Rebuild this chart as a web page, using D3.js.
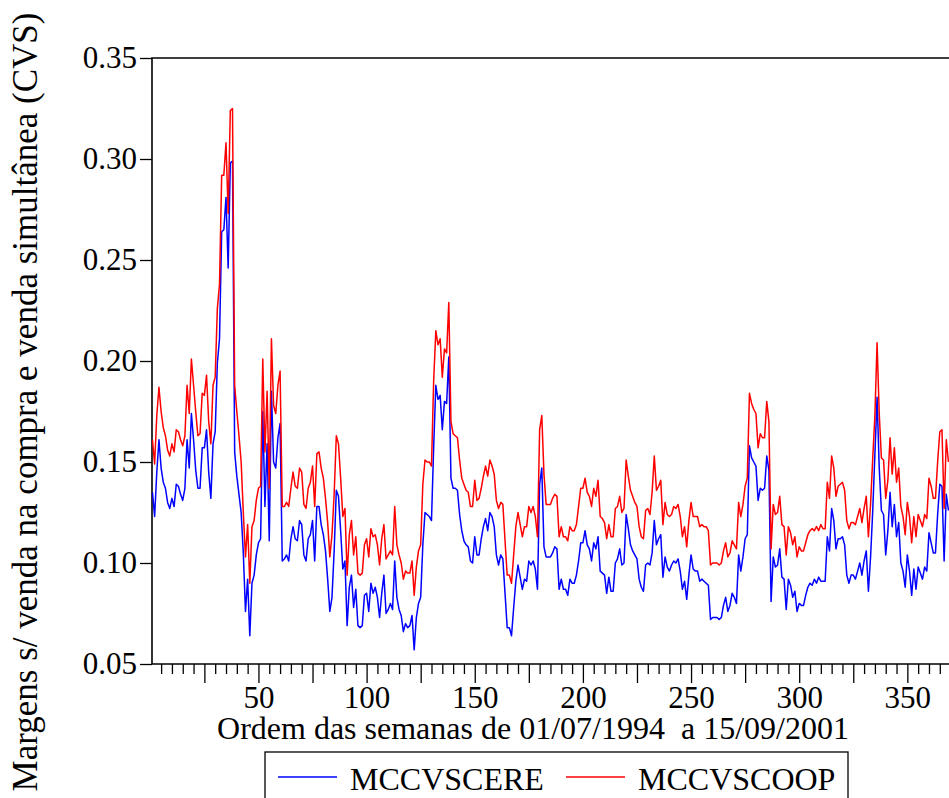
<!DOCTYPE html>
<html>
<head>
<meta charset="utf-8">
<script src="https://cdn.jsdelivr.net/npm/d3@7"></script>
<style>
  body { margin: 0; background: #fff; }
  svg { display: block; font-family: "Liberation Serif", "Times New Roman", serif; }
</style>
</head>
<body>
<svg id="chart" width="949" height="798"></svg>
<script>
// weekly margins, week 1 = 01/07/1994 (last weeks are cut by the frame)
var mccvscere = [
  0.135, 0.123, 0.145, 0.161, 0.147, 0.140, 0.137, 0.130, 0.127, 0.132,
  0.128, 0.139, 0.138, 0.134, 0.131, 0.137, 0.161, 0.147, 0.174, 0.161,
  0.146, 0.137, 0.137, 0.157, 0.157, 0.166, 0.145, 0.132, 0.159, 0.165,
  0.199, 0.211, 0.264, 0.265, 0.281, 0.246, 0.298, 0.299, 0.155, 0.143,
  0.134, 0.125, 0.105, 0.076, 0.092, 0.064, 0.090, 0.094, 0.104, 0.110,
  0.112, 0.175, 0.128, 0.159, 0.111, 0.185, 0.150, 0.147, 0.162, 0.169,
  0.101, 0.102, 0.104, 0.101, 0.112, 0.118, 0.112, 0.111, 0.121, 0.119,
  0.104, 0.101, 0.112, 0.114, 0.121, 0.101, 0.128, 0.128, 0.119, 0.114,
  0.106, 0.092, 0.076, 0.083, 0.106, 0.136, 0.133, 0.116, 0.097, 0.101,
  0.069, 0.088, 0.094, 0.078, 0.087, 0.069, 0.068, 0.069, 0.084, 0.085,
  0.076, 0.090, 0.085, 0.088, 0.083, 0.073, 0.085, 0.094, 0.075, 0.077,
  0.080, 0.077, 0.101, 0.083, 0.077, 0.074, 0.066, 0.070, 0.068, 0.069,
  0.074, 0.057, 0.073, 0.080, 0.083, 0.109, 0.125, 0.124, 0.123, 0.121,
  0.157, 0.188, 0.181, 0.183, 0.166, 0.180, 0.179, 0.202, 0.142, 0.137,
  0.137, 0.136, 0.124, 0.116, 0.111, 0.109, 0.108, 0.101, 0.100, 0.113,
  0.104, 0.104, 0.112, 0.118, 0.122, 0.116, 0.125, 0.123, 0.118, 0.104,
  0.099, 0.104, 0.102, 0.085, 0.068, 0.068, 0.064, 0.078, 0.091, 0.099,
  0.093, 0.087, 0.092, 0.091, 0.101, 0.099, 0.101, 0.097, 0.087, 0.139,
  0.147, 0.108, 0.103, 0.103, 0.103, 0.105, 0.108, 0.107, 0.087, 0.092,
  0.087, 0.087, 0.084, 0.092, 0.090, 0.090, 0.094, 0.101, 0.110, 0.110,
  0.116, 0.109, 0.107, 0.101, 0.110, 0.107, 0.113, 0.096, 0.095, 0.094,
  0.085, 0.093, 0.086, 0.086, 0.100, 0.102, 0.107, 0.099, 0.100, 0.124,
  0.117, 0.109, 0.106, 0.104, 0.102, 0.092, 0.088, 0.086, 0.099, 0.100,
  0.099, 0.105, 0.121, 0.109, 0.112, 0.114, 0.093, 0.103, 0.098, 0.096,
  0.099, 0.101, 0.100, 0.102, 0.096, 0.087, 0.091, 0.082, 0.094, 0.104,
  0.097, 0.096, 0.096, 0.091, 0.092, 0.091, 0.090, 0.089, 0.072, 0.073,
  0.073, 0.073, 0.072, 0.073, 0.079, 0.083, 0.076, 0.079, 0.085, 0.083,
  0.080, 0.104, 0.096, 0.103, 0.112, 0.114, 0.158, 0.152, 0.150, 0.148,
  0.131, 0.137, 0.136, 0.137, 0.153, 0.146, 0.081, 0.103, 0.098, 0.099,
  0.107, 0.093, 0.092, 0.077, 0.092, 0.089, 0.083, 0.086, 0.076, 0.080,
  0.079, 0.079, 0.084, 0.088, 0.090, 0.089, 0.092, 0.090, 0.093, 0.091,
  0.091, 0.091, 0.113, 0.106, 0.127, 0.121, 0.107, 0.112, 0.112, 0.113,
  0.109, 0.094, 0.090, 0.094, 0.094, 0.092, 0.096, 0.100, 0.094, 0.101,
  0.106, 0.086, 0.103, 0.126, 0.154, 0.182, 0.147, 0.126, 0.124, 0.104,
  0.116, 0.135, 0.118, 0.129, 0.113, 0.120, 0.100, 0.096, 0.088, 0.104,
  0.096, 0.084, 0.097, 0.087, 0.098, 0.095, 0.092, 0.098, 0.096, 0.115,
  0.110, 0.105, 0.105, 0.124, 0.139, 0.138, 0.101, 0.134, 0.126
];

var mccvscoop = [
  0.161, 0.149, 0.173, 0.187, 0.175, 0.167, 0.163, 0.156, 0.153, 0.159,
  0.155, 0.166, 0.165, 0.161, 0.158, 0.163, 0.188, 0.174, 0.201, 0.188,
  0.175, 0.163, 0.164, 0.184, 0.183, 0.193, 0.170, 0.159, 0.188, 0.192,
  0.226, 0.238, 0.292, 0.292, 0.308, 0.273, 0.324, 0.325, 0.188, 0.175,
  0.163, 0.150, 0.125, 0.103, 0.119, 0.090, 0.118, 0.121, 0.131, 0.137,
  0.138, 0.201, 0.155, 0.185, 0.137, 0.211, 0.178, 0.174, 0.188, 0.195,
  0.128, 0.128, 0.130, 0.128, 0.137, 0.145, 0.138, 0.137, 0.147, 0.145,
  0.129, 0.127, 0.137, 0.140, 0.148, 0.128, 0.154, 0.155, 0.147, 0.142,
  0.132, 0.120, 0.103, 0.114, 0.134, 0.163, 0.159, 0.142, 0.123, 0.127,
  0.094, 0.114, 0.121, 0.104, 0.113, 0.095, 0.094, 0.095, 0.109, 0.112,
  0.103, 0.117, 0.113, 0.114, 0.109, 0.099, 0.112, 0.119, 0.102, 0.104,
  0.106, 0.104, 0.128, 0.109, 0.104, 0.100, 0.092, 0.096, 0.095, 0.095,
  0.101, 0.084, 0.098, 0.106, 0.109, 0.139, 0.151, 0.150, 0.150, 0.148,
  0.190, 0.215, 0.208, 0.211, 0.192, 0.206, 0.204, 0.229, 0.170, 0.164,
  0.163, 0.162, 0.151, 0.142, 0.139, 0.136, 0.135, 0.128, 0.128, 0.141,
  0.131, 0.132, 0.137, 0.143, 0.148, 0.143, 0.151, 0.148, 0.144, 0.131,
  0.127, 0.130, 0.129, 0.111, 0.094, 0.094, 0.090, 0.104, 0.118, 0.125,
  0.119, 0.113, 0.118, 0.118, 0.128, 0.125, 0.128, 0.123, 0.113, 0.166,
  0.173, 0.144, 0.129, 0.129, 0.129, 0.132, 0.134, 0.133, 0.113, 0.118,
  0.113, 0.113, 0.111, 0.118, 0.116, 0.116, 0.119, 0.128, 0.137, 0.137,
  0.142, 0.135, 0.133, 0.128, 0.137, 0.133, 0.141, 0.123, 0.122, 0.120,
  0.112, 0.119, 0.113, 0.113, 0.127, 0.128, 0.133, 0.125, 0.127, 0.151,
  0.143, 0.136, 0.133, 0.130, 0.128, 0.118, 0.113, 0.112, 0.126, 0.127,
  0.124, 0.135, 0.153, 0.136, 0.138, 0.141, 0.119, 0.130, 0.124, 0.123,
  0.124, 0.128, 0.127, 0.129, 0.123, 0.113, 0.118, 0.108, 0.121, 0.130,
  0.123, 0.123, 0.123, 0.118, 0.119, 0.118, 0.118, 0.116, 0.099, 0.100,
  0.100, 0.100, 0.099, 0.100, 0.106, 0.110, 0.103, 0.105, 0.111, 0.109,
  0.107, 0.130, 0.123, 0.129, 0.138, 0.142, 0.184, 0.179, 0.176, 0.174,
  0.157, 0.164, 0.162, 0.162, 0.180, 0.170, 0.107, 0.129, 0.124, 0.125,
  0.133, 0.119, 0.118, 0.104, 0.118, 0.115, 0.109, 0.113, 0.103, 0.108,
  0.106, 0.106, 0.110, 0.114, 0.116, 0.117, 0.116, 0.118, 0.116, 0.119,
  0.117, 0.117, 0.140, 0.132, 0.153, 0.147, 0.133, 0.138, 0.139, 0.140,
  0.136, 0.121, 0.117, 0.120, 0.120, 0.119, 0.123, 0.127, 0.120, 0.127,
  0.133, 0.113, 0.129, 0.152, 0.173, 0.209, 0.174, 0.152, 0.151, 0.132,
  0.141, 0.162, 0.144, 0.157, 0.140, 0.147, 0.128, 0.123, 0.114, 0.130,
  0.123, 0.110, 0.123, 0.113, 0.124, 0.121, 0.118, 0.124, 0.122, 0.142,
  0.138, 0.132, 0.132, 0.150, 0.165, 0.166, 0.127, 0.161, 0.150
];

var seriesNames = ["MCCVSCERE", "MCCVSCOOP"];
var seriesColors = ["#0000ff", "#ff0000"];
var yTicks = [0.05, 0.10, 0.15, 0.20, 0.25, 0.30, 0.35];
var xLabelTicks = [50, 100, 150, 200, 250, 300, 350];
var xTitle = "Ordem das semanas de 01/07/1994\u00a0\u00a0a 15/09/2001";
var yTitle = "Margens s/ venda na compra e venda simultânea (CVS)";

var svg = d3.select("#chart");
var W = 949, H = 798;
var plotLeft = 152, plotTop = 58, plotBottom = 664;

svg.append("rect").attr("width", W).attr("height", H).attr("fill", "#fff");

// x runs past the right edge of the picture, the frame is cut there
var x = d3.scaleLinear().domain([0, 380]).range([150.3, 150.3 + 380 * 2.163]);
var y = d3.scaleLinear().domain([0.05, 0.35]).range([plotBottom, plotTop]);

// minor ticks every 5 weeks
var minorAxis = d3.axisBottom(x)
  .tickValues(d3.range(5, 371, 5).filter(function(d) { return d % 25 != 0; }))
  .tickSize(10)
  .tickFormat("");
svg.append("g")
  .attr("transform", "translate(0," + plotBottom + ")")
  .call(minorAxis)
  .call(function(g) { g.select(".domain").remove(); });

// major ticks every 25, labels every 50
var majorAxis = d3.axisBottom(x)
  .tickValues(d3.range(25, 371, 25))
  .tickSize(19)
  .tickPadding(3)
  .tickFormat(function(d) { return xLabelTicks.indexOf(d) >= 0 ? d : ""; });
svg.append("g")
  .attr("transform", "translate(0," + plotBottom + ")")
  .call(majorAxis)
  .call(function(g) { g.select(".domain").remove(); });

var yAxis = d3.axisLeft(y)
  .tickValues(yTicks)
  .tickSize(12)
  .tickPadding(3)
  .tickFormat(d3.format(".2f"));
svg.append("g")
  .attr("transform", "translate(" + plotLeft + ",0)")
  .call(yAxis)
  .call(function(g) { g.select(".domain").remove(); });

svg.selectAll(".tick line").attr("stroke", "#000").attr("stroke-width", 1.3);
svg.selectAll(".tick text")
  .attr("fill", "#000")
  .style("font-family", "Liberation Serif")
  .style("font-size", "31px");

// frame (left, top, bottom)
svg.append("path")
  .attr("d", "M" + (W + 5) + "," + plotTop + "H" + plotLeft + "V" + plotBottom + "H" + (W + 5))
  .attr("fill", "none")
  .attr("stroke", "#000")
  .attr("stroke-width", 1.6);

// lines
var line = d3.line()
  .x(function(d, i) { return x(i + 1); })
  .y(function(d) { return y(d); });

[mccvscere, mccvscoop].forEach(function(s, k) {
  svg.append("path")
    .datum(s)
    .attr("d", line)
    .attr("fill", "none")
    .attr("stroke", seriesColors[k])
    .attr("stroke-width", 1.5)
    .attr("stroke-linejoin", "round");
});

// axis titles
svg.append("text")
  .attr("x", 533)
  .attr("y", 739)
  .attr("text-anchor", "middle")
  .style("font-size", "32px")
  .text(xTitle);

svg.append("text")
  .attr("transform", "translate(37,402) rotate(-90)")
  .attr("text-anchor", "middle")
  .style("font-size", "35px")
  .text(yTitle);

// legend box, runs off the bottom
var lg = svg.append("g");
lg.append("rect")
  .attr("x", 265).attr("y", 752)
  .attr("width", 583).attr("height", 80)
  .attr("fill", "#fff")
  .attr("stroke", "#000")
  .attr("stroke-width", 1.3);

var legendX = [278, 566];
seriesNames.forEach(function(name, k) {
  lg.append("line")
    .attr("x1", legendX[k]).attr("x2", legendX[k] + 59)
    .attr("y1", 777).attr("y2", 777)
    .attr("stroke", seriesColors[k])
    .attr("stroke-width", 1.3);
  lg.append("text")
    .attr("x", legendX[k] + 72)
    .attr("y", 790)
    .style("font-size", "32px")
    .text(name);
});
</script>
</body>
</html>
